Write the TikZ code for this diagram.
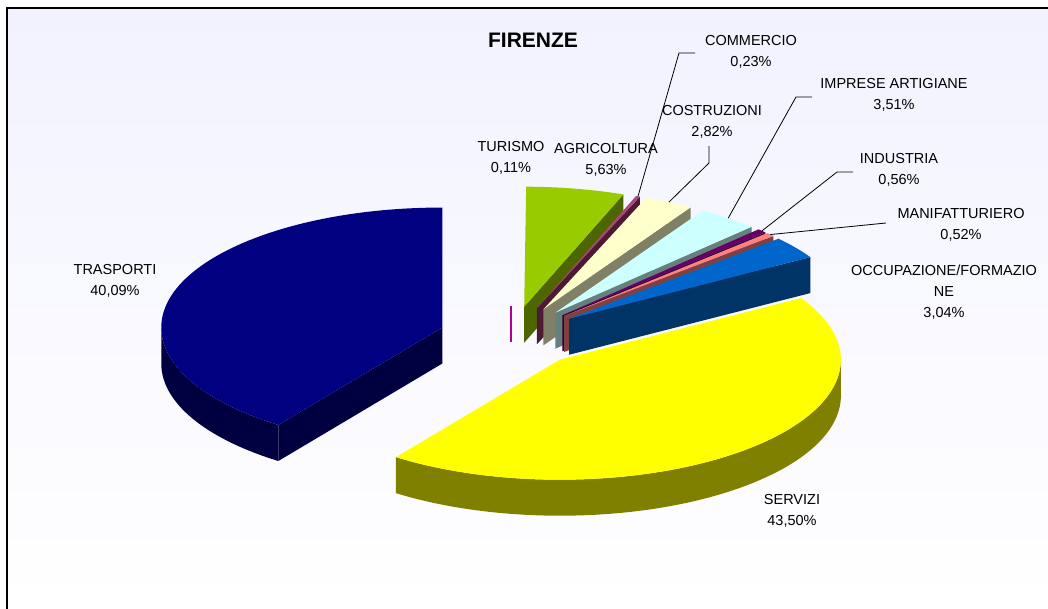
\documentclass[tikz,border=0pt]{standalone}
\usepackage{fontspec}
\setmainfont{Liberation Sans}
\usetikzlibrary{calc}
\definecolor{bgtop}{RGB}{242,242,255}
\definecolor{bgmid}{RGB}{204,204,255}
\definecolor{turC}{RGB}{176,0,140}
\definecolor{agriT}{RGB}{153,204,0}\definecolor{agriS}{RGB}{77,102,0}
\definecolor{commT}{RGB}{170,70,120}\definecolor{commS}{RGB}{77,26,51}
\definecolor{costT}{RGB}{255,255,204}\definecolor{costS}{RGB}{128,128,102}
\definecolor{impT}{RGB}{204,255,255}\definecolor{impS}{RGB}{102,128,128}
\definecolor{indT}{RGB}{102,0,102}\definecolor{indS}{RGB}{51,0,51}
\definecolor{manT}{RGB}{255,128,128}\definecolor{manS}{RGB}{128,64,64}
\definecolor{occT}{RGB}{0,102,204}\definecolor{occS}{RGB}{0,51,102}
\definecolor{serT}{RGB}{255,255,0}\definecolor{serS}{RGB}{128,128,0}
\definecolor{traT}{RGB}{0,0,128}\definecolor{traS}{RGB}{0,0,64}
\newcommand{\pA}{281}
\newcommand{\pB}{120}
\newcommand{\pH}{36}
\newcommand{\pE}{0.257}
% #1 name, #2 cumulative start %, #3 cumulative end %, #4 top colour, #5 side colour
\newcommand{\drawslice}[5]{%
  \pgfmathsetmacro\sA{90-3.59964*#3}%
  \pgfmathsetmacro\sB{90-3.59964*#2}%
  \pgfmathsetmacro\sM{(\sA+\sB)/2}%
  \coordinate (#1c) at ($(O)+({\pE*\pA*cos(\sM)},{\pE*\pB*sin(\sM)})$);
  \coordinate (#1s) at ($(#1c)+({\pA*cos(\sA)},{\pB*sin(\sA)})$);
  \coordinate (#1e) at ($(#1c)+({\pA*cos(\sB)},{\pB*sin(\sB)})$);
  \coordinate (#1m) at ($(#1c)+({\pA*cos(\sM)},{\pB*sin(\sM)})$);
  \pgfmathsetmacro\qfs{max(\sA,-180)}%
  \pgfmathsetmacro\qfe{min(\sB,0)}%
  \pgfmathtruncatemacro\qfv{\qfs<\qfe}%
  \ifnum\qfv=1
    \fill[#5] ($(#1c)+({\pA*cos(\qfs)},{\pB*sin(\qfs)})$)
      arc[start angle=\qfs, end angle=\qfe, x radius=\pA, y radius=\pB]
      -- ++(0,-\pH)
      arc[start angle=\qfe, end angle=\qfs, x radius=\pA, y radius=\pB] -- cycle;
  \fi
  \pgfmathtruncatemacro\qwa{cos(\sA)>0.01}%
  \ifnum\qwa=1
    \fill[#5] (#1c) -- (#1s) -- ++(0,-\pH) -- ($(#1c)+(0,-\pH)$) -- cycle;
  \fi
  \pgfmathtruncatemacro\qwb{cos(\sB)<-0.01}%
  \ifnum\qwb=1
    \fill[#5] (#1c) -- (#1e) -- ++(0,-\pH) -- ($(#1c)+(0,-\pH)$) -- cycle;
  \fi
  \fill[#4] (#1c) -- (#1s) arc[start angle=\sA, end angle=\sB, x radius=\pA, y radius=\pB] -- cycle;
}
\begin{document}
\begin{tikzpicture}[x=1pt,y=1pt,
  lbl/.style={font=\fontsize{14.5}{21}\selectfont, align=center, inner sep=1pt, text=black},
  leader/.style={draw=black, line width=0.8pt}]
\useasboundingbox (0,0) rectangle (1048,608);
\fill[white] (0,0) rectangle (1048,608);
\shade[top color=bgtop, middle color=bgmid, bottom color=white] (6.5,0) rectangle (1048,600);
\draw[line width=2pt] (6.5,-5) -- (6.5,600) -- (1055,600);

\coordinate (O) at (511,271);

% TURISMO (only its thin inner edge shows)
\coordinate (turc) at ($(O)+(0.2,30.84)$);
\coordinate (turb) at ($(turc)+(0,-\pH)$);
\draw[turC, line width=1.6pt] (turc) -- (turb);

\drawslice{agri}{0.11}{5.74}{agriT}{agriS}
\drawslice{comm}{5.74}{5.97}{commT}{commS}
\drawslice{cost}{5.97}{8.79}{costT}{costS}
\drawslice{imp}{8.79}{12.30}{impT}{impS}
\drawslice{ind}{12.30}{12.86}{indT}{indS}
\drawslice{man}{12.86}{13.38}{manT}{manS}
\drawslice{occ}{13.38}{16.42}{occT}{occS}
\drawslice{tra}{59.92}{100.01}{traT}{traS}
\drawslice{ser}{16.42}{59.92}{serT}{serS}

% Title
\node[font=\fontsize{21}{24}\selectfont\bfseries, inner sep=0pt] (title) at (533,567.5) {FIRENZE};

% Labels
\node[lbl] (lcomm) at (751,556) {COMMERCIO\\0,23\%};
\node[lbl] (limp) at (894,513) {IMPRESE ARTIGIANE\\3,51\%};
\node[lbl] (lcost) at (712,486.5) {COSTRUZIONI\\2,82\%};
\node[lbl] (ltur) at (511,450.5) {TURISMO\\0,11\%};
\node[lbl] (lagri) at (606,448.5) {AGRICOLTURA\\5,63\%};
\node[lbl] (lind) at (899,438.5) {INDUSTRIA\\0,56\%};
\node[lbl] (lman) at (961,383.5) {MANIFATTURIERO\\0,52\%};
\node[lbl] (locc) at (944,316) {OCCUPAZIONE/FORMAZIO\\NE\\3,04\%};
\node[lbl] (ltra) at (115,327) {TRASPORTI\\40,09\%};
\node[lbl] (lser) at (792,97.5) {SERVIZI\\43,50\%};

% Leader lines
\coordinate (kcomm) at (695,555);
\coordinate (kcost) at (709,462);
\coordinate (kimp) at (812,511);
\coordinate (kind) at (853,436);
\coordinate (kman) at (886,385);
\draw[leader] (kcomm) -- ++(-16,0) -- (commm);
\draw[leader] (kcost) -- ++(0,-17) -- (costm);
\draw[leader] (kimp) -- ++(-16,0) -- (impm);
\draw[leader] (kind) -- ++(-16,0) -- (indm);
\draw[leader] (kman) -- (manm);
\end{tikzpicture}
\end{document}
